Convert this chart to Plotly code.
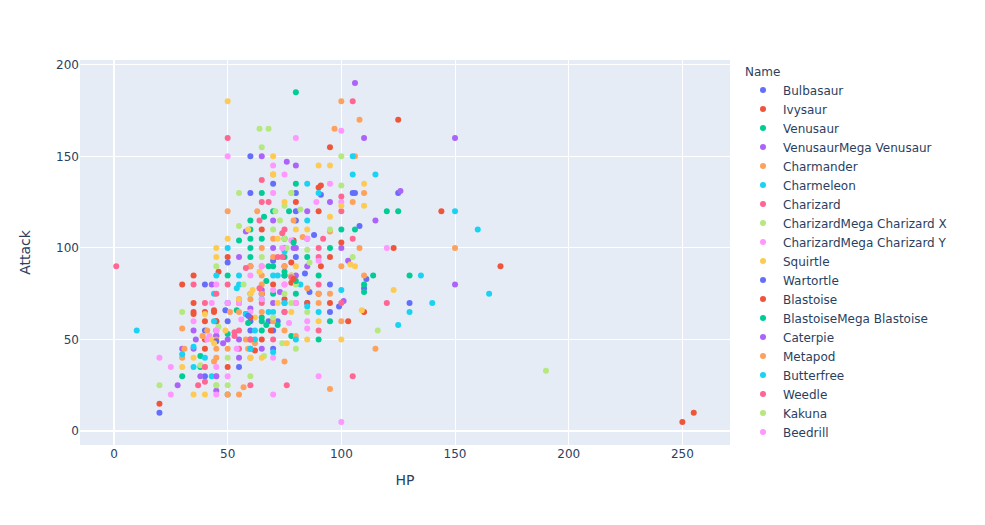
import plotly.graph_objects as go

COLORS = ["#636EFA", "#EF553B", "#00CC96", "#AB63FA", "#FFA15A",
          "#19D3F3", "#FF6692", "#B6E880", "#FF97FF", "#FECB52"]

legend_names = ["Bulbasaur", "Ivysaur", "Venusaur", "VenusaurMega Venusaur", "Charmander",
                "Charmeleon", "Charizard", "CharizardMega Charizard X", "CharizardMega Charizard Y",
                "Squirtle", "Wartortle", "Blastoise", "BlastoiseMega Blastoise", "Caterpie",
                "Metapod", "Butterfree", "Weedle", "Kakuna", "Beedrill"]
legend_hp = [45, 60, 80, 80, 39, 58, 78, 78, 78, 44, 59, 79, 79, 45, 50, 60, 40, 45, 65]
legend_attack = [49, 62, 82, 100, 52, 64, 84, 130, 104, 48, 63, 83, 103, 30, 20, 45, 35, 25, 90]

blue_hp = [60,70,60,80,91,105,106,80,80,88,108,50,80,70,60,84,111,95,110,86,50,99,49,58,95,50,60,72,45,60,70,70,55,130,125,40,40,45,40,20,75,68,65,85]
blue_attack = [150,135,130,130,129,130,130,120,115,107,112,92,95,93,90,86,83,80,78,76,70,68,66,64,65,60,60,60,55,55,55,45,35,70,130,80,55,52,30,10,85,60,75,70]

red_hp = [125,95,91,90,80,90,65,79,100,50,95,78,46,91,78,70,90,65,85,95,44,110,45,103,69,65,60,62,50,144,123,170,35,30,35,35,35,40,44,40,45,40,40,20,250,255,60,55,75]
red_attack = [170,155,134,133,125,120,110,104,103,95,95,92,87,90,81,80,75,75,70,70,65,65,60,60,55,50,50,44,35,120,100,90,85,80,70,65,64,65,66,60,60,50,45,15,5,10,45,70,72]

green_hp = [80,80,65,70,77,60,66,60,100,106,55,60,65,75,60,75,95,60,85,68,70,50,75,90,114,110,67,54,65,59,65,67,72,95,65,78,90,50,50,120,125,130,38,38,30,75,75,110,70,80]
green_attack = [185,135,130,120,120,115,117,110,110,110,104,105,105,105,100,100,100,95,95,90,90,85,87,85,85,80,82,66,62,59,60,58,58,60,55,52,50,53,20,120,120,85,41,35,30,95,85,76,75,75]

purple_hp = [106,110,65,76,80,95,85,70,58,115,85,70,79,100,55,103,75,85,150,126,150,70,75,101,45,48,50,55,65,55,45,73,65,43,35,36,30,35,38,28,75,60,80]
purple_attack = [190,160,150,147,145,125,120,115,109,115,105,100,100,100,95,93,90,90,160,131,80,70,70,71,52,48,50,50,45,40,22,76,77,80,55,50,45,45,30,25,65,67,85]

orange_hp = [100,108,97,106,50,63,105,110,79,95,70,83,65,108,70,60,65,75,100,65,110,78,65,75,65,95,51,55,65,100,70,75,45,58,80,45,50,59,62,44,45,60,75,57,55,95,115,150,30,31,41,30,70,90,90,60,85]
orange_attack = [180,170,165,150,120,120,125,130,115,109,105,106,100,100,95,90,90,90,90,85,85,85,80,80,75,75,65,65,65,60,60,55,50,50,52,45,45,45,48,38,40,40,38,24,20,23,45,100,56,45,55,40,140,75,70,72,78]

cyan_hp = [105,105,115,85,90,85,75,50,45,55,70,72,55,82,54,100,68,70,90,44,62,62,80,70,43,10,150,160,135,165,140,130,125,44,30,35,40,35,75,65,85,60]
cyan_attack = [150,140,140,135,130,115,98,100,85,85,85,85,80,80,78,77,65,65,65,60,55,50,50,43,30,55,120,110,85,75,70,65,58,75,42,35,40,46,70,72,68,75]

pink_hp = [105,50,65,65,68,100,100,64,75,74,92,105,90,72,74,90,58,50,90,64,65,75,53,55,90,53,60,70,55,60,76,105,37,40,1,35,40,120,45,80,100,55]
pink_attack = [180,160,137,125,125,128,120,115,110,108,105,105,100,95,95,95,89,80,80,78,70,65,54,55,55,52,50,50,45,25,25,30,25,27,90,80,70,70,75,70,70,72]

lime_hp = [64,68,65,100,100,75,55,78,82,71,73,55,70,95,75,76,85,65,105,45,86,78,80,57,75,78,46,116,74,80,50,66,60,45,50,20,30,38,190,70,85]
lime_attack = [165,165,155,150,134,123,130,130,121,120,115,112,110,110,105,100,99,95,95,90,92,85,80,80,75,70,57,55,48,45,40,41,30,25,25,25,65,36,33,62,65]

magenta_hp = [50,80,100,70,75,95,70,89,100,85,74,90,60,45,43,50,55,80,56,85,77,45,85,42,41,35,20,25,25,45,45,45,50,70,54,70,90,70,100,120,75,60,65]
magenta_attack = [150,160,164,145,140,135,130,125,125,105,100,93,85,80,70,70,70,70,61,60,59,55,56,52,50,60,40,35,20,35,30,20,30,77,45,40,30,20,5,100,80,65,72]

yellow_hp = [50,70,90,95,70,110,75,100,110,59,80,85,95,50,72,45,45,64,80,104,106,61,60,78,109,90,49,43,76,85,100,60,65,39,40,35,30,40,35,40,123,72,62,55]
yellow_attack = [180,150,145,145,140,135,125,123,123,110,110,110,117,105,105,100,95,87,90,91,90,77,75,65,66,60,55,50,48,50,50,40,40,52,64,40,35,35,20,20,77,70,62,72]

groups = [(blue_hp, blue_attack), (red_hp, red_attack), (green_hp, green_attack),
          (purple_hp, purple_attack), (orange_hp, orange_attack), (cyan_hp, cyan_attack),
          (pink_hp, pink_attack), (lime_hp, lime_attack), (magenta_hp, magenta_attack),
          (yellow_hp, yellow_attack)]

fig = go.Figure()
for color, (xs, ys) in zip(COLORS, groups):
    fig.add_trace(go.Scatter(x=xs, y=ys, mode="markers", marker=dict(color=color),
                             showlegend=False, name=""))
for i, name in enumerate(legend_names):
    fig.add_trace(go.Scatter(x=[legend_hp[i]], y=[legend_attack[i]], mode="markers", name=name,
                             marker=dict(color=COLORS[i % 10], symbol="circle")))

fig.update_layout(
    template="plotly",
    width=977, height=517,
    margin=dict(l=72, r=255, t=52, b=80, autoexpand=False),
    font=dict(family="DejaVu Sans"),
    legend=dict(title=dict(text="Name", font=dict(size=12)), tracegroupgap=0, maxheight=420),
    xaxis=dict(title="HP"),
    yaxis=dict(title=dict(text="Attack", standoff=22), automargin=True),
)
fig.write_html("out.html")
